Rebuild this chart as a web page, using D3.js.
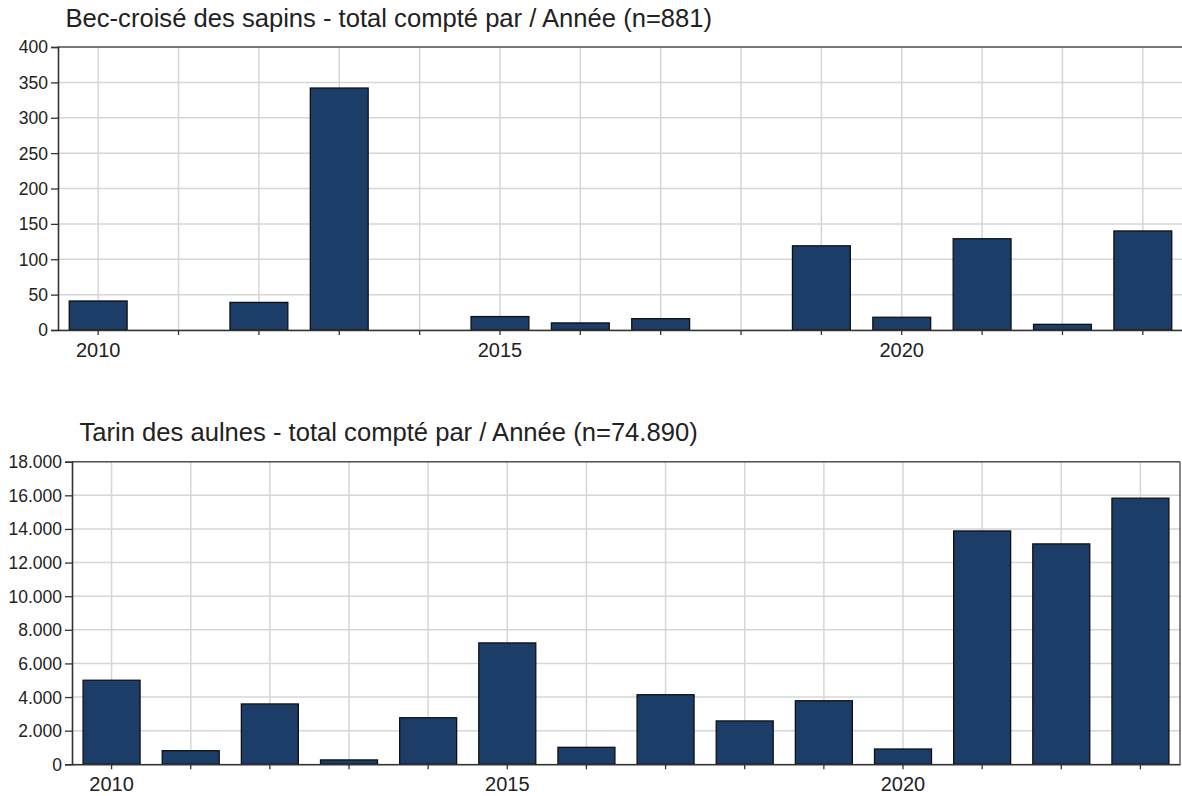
<!DOCTYPE html>
<html>
<head>
<meta charset="utf-8">
<script src="https://cdn.jsdelivr.net/npm/d3@7"></script>
<style>
  html, body { margin: 0; padding: 0; background: #fff; }
  svg { display: block; }
  text { font-family: "Liberation Sans", Arial, sans-serif; fill: #222; }
</style>
</head>
<body>
<svg id="chart" width="1182" height="796"></svg>
<script>
// ---- data ----
const years = [2010, 2011, 2012, 2013, 2014, 2015, 2016, 2017, 2018, 2019, 2020, 2021, 2022, 2023];
const becCroiseValues = [41, 0, 39, 342, 0, 19, 10, 16, 0, 119, 18, 129, 8, 140];
const tarinValues = [5000, 810, 3590, 260, 2770, 7220, 1010, 4140, 2580, 3780, 910, 13880, 13110, 15830];
const becCroiseTitle = "Bec-croisé des sapins - total compté par / Année (n=881)";
const tarinTitle = "Tarin des aulnes - total compté par / Année (n=74.890)";
const becCroiseTicks = [0, 50, 100, 150, 200, 250, 300, 350, 400];
const tarinTicks = [0, 2000, 4000, 6000, 8000, 10000, 12000, 14000, 16000, 18000];
const labelledYears = [2010, 2015, 2020];

const frLocale = d3.formatLocale({ decimal: ",", thousands: ".", grouping: [3], currency: ["", " €"] });
const fmt = frLocale.format(",d");

const svg = d3.select("#chart");
const barFill = "#1b3d68";
const gridColor = "#d6d6d6";

function drawPanel(cfg) {
  const { left, right, top, bottom, values, ticks, title, rightBorder } = cfg;
  const g = svg.append("g");

  const x = d3.scaleBand().domain(years).range([left, right]).paddingInner(0.28).paddingOuter(0.14);
  const y = d3.scaleLinear().domain([0, d3.max(ticks)]).range([bottom, top]);

  // horizontal grid
  g.append("g").selectAll("line").data(ticks).join("line")
    .attr("x1", left).attr("x2", right)
    .attr("y1", d => y(d)).attr("y2", d => y(d))
    .attr("stroke", gridColor).attr("stroke-width", 1.5);
  // vertical grid
  g.append("g").selectAll("line").data(years).join("line")
    .attr("x1", d => x(d) + x.bandwidth() / 2).attr("x2", d => x(d) + x.bandwidth() / 2)
    .attr("y1", top).attr("y2", bottom)
    .attr("stroke", gridColor).attr("stroke-width", 1.5);

  // frame top / right
  g.append("line").attr("x1", left).attr("x2", right).attr("y1", top).attr("y2", top)
    .attr("stroke", "#555").attr("stroke-width", 1.4);
  if (rightBorder) {
    g.append("line").attr("x1", right).attr("x2", right).attr("y1", top).attr("y2", bottom)
      .attr("stroke", "#555").attr("stroke-width", 1.4);
  }

  // bars
  g.append("g").selectAll("rect").data(years.map((yr, i) => ({ yr, v: values[i] })).filter(d => d.v > 0)).join("rect")
    .attr("x", d => x(d.yr)).attr("width", x.bandwidth())
    .attr("y", d => y(d.v)).attr("height", d => y(0) - y(d.v))
    .attr("fill", barFill).attr("stroke", "#111").attr("stroke-width", 1.3);

  // y axis
  const ya = g.append("g").attr("transform", `translate(${left},0)`)
    .call(d3.axisLeft(y).tickValues(ticks).tickFormat(fmt).tickSize(7).tickPadding(3));
  ya.select(".domain").attr("stroke", "#333").attr("stroke-width", 1.6);
  ya.selectAll(".tick line").attr("stroke", "#333").attr("stroke-width", 1.3);
  ya.selectAll(".tick text").style("font-size", "17.5px").attr("fill", "#222").attr("dy", "0.34em");

  // x axis
  const xa = g.append("g").attr("transform", `translate(0,${bottom})`)
    .call(d3.axisBottom(x).tickFormat(d => labelledYears.includes(d) ? d : "").tickSize(5).tickPadding(8).tickSizeOuter(0));
  xa.select(".domain").attr("stroke", "#333").attr("stroke-width", 1.6);
  xa.selectAll(".tick line").attr("stroke", "#333").attr("stroke-width", 1.3);
  xa.selectAll(".tick text").style("font-size", "20px").attr("fill", "#222");

  // title
  g.append("text").attr("x", left + 7.5).attr("y", cfg.titleY)
    .style("font-size", "25.6px").text(title);
}

drawPanel({ left: 58, right: 1183, top: 47, bottom: 330, values: becCroiseValues, ticks: becCroiseTicks, title: becCroiseTitle, titleY: 27.3, rightBorder: false });
drawPanel({ left: 72, right: 1180, top: 461.7, bottom: 764.3, values: tarinValues, ticks: tarinTicks, title: tarinTitle, titleY: 440.7, rightBorder: true });
</script>
</body>
</html>
